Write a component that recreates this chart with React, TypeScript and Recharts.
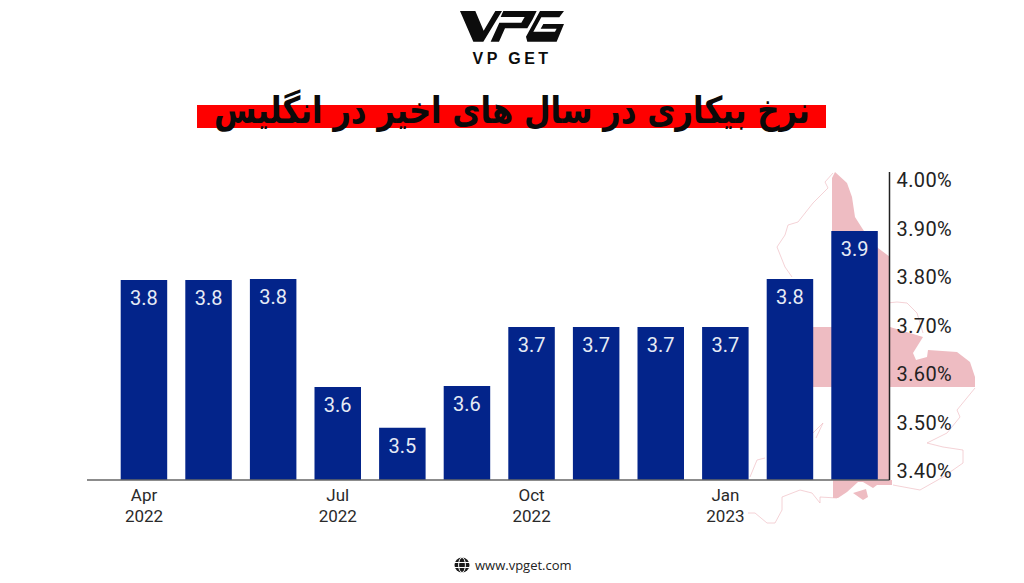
import React from 'react';
import { BarChart, Bar, XAxis, YAxis, LabelList } from 'recharts';

const months = [
  'Apr 2022', 'May 2022', 'Jun 2022', 'Jul 2022', 'Aug 2022', 'Sep 2022',
  'Oct 2022', 'Nov 2022', 'Dec 2022', 'Jan 2023', 'Feb 2023', 'Mar 2023',
];
// bar heights as drawn in the picture, labels round them to one decimal
const rates = [3.794, 3.794, 3.796, 3.573, 3.489, 3.575, 3.697, 3.697, 3.697, 3.697, 3.796, 3.895];
const rateTicks = [3.4, 3.5, 3.6, 3.7, 3.8, 3.9, 4.0];

const data = months.map((month, i) => ({ month, rate: rates[i] }));

const PINK = '#eebcc2';
const FONT = 'Roboto, sans-serif';

const MonthTick = ({ x, y, payload }: any) => {
  const [m, yr] = payload.value.split(' ');
  return (
    <text x={x} textAnchor="middle" fontSize={17} fontFamily={FONT} fill="#2a2a2a">
      <tspan x={x} y={y + 13}>{m}</tspan>
      <tspan x={x} y={y + 34}>{yr}</tspan>
    </text>
  );
};

// faint map of England sitting behind the chart
const MapBackdrop = () => (
  <svg width={1024} height={583} style={{ position: 'absolute', left: 0, top: 0 }}>
    <g fill={PINK}>
      <polygon points="835,172 847,183 852,197 855,217 862,228 870,240 878,248 890,257 890,480 833,480 832,300 832,178" />
      <polygon points="800,327 890,327 923,337 913,353 916,360 927,357 928,350 957,352 970,362 975,377 975,387 800,387" />
      <polygon points="833,480 892,480 892,485 877,485 873,488 863,482 858,482 847,492 838,498 833,498" />
      <polygon points="853,493 866,489 868,497 863,500" />
    </g>
    <g fill="none" stroke={PINK} strokeWidth={0.9} strokeOpacity={0.75}>
      <polyline points="833,173 825,182 828,188 813,203 798,222 788,225 785,235 777,247 785,267 792,277" />
      <polyline points="887,303 897,302 907,303 917,313 923,333" />
      <polyline points="975,388 957,410 960,417 947,433 927,443 943,447 963,450 963,463 943,477 920,490 893,485" />
      <polyline points="755,513 767,523 775,523 782,510 782,497 800,490 812,493 820,503 820,497 837,498" />
      <polyline points="748,513 755,513" />
      <polyline points="813,433 823,423 816,438" />
      <polyline points="750,477 757,460 765,458" />
    </g>
  </svg>
);

const Logo = () => (
  <svg width={1024} height={80} style={{ position: 'absolute', left: 0, top: 0 }}>
    <g fill="#0c0c0c" transform="translate(440 0) scale(0.3333)">
      <polygon points="60,33 106,33 131,92 166,33 186,33 130,125 100,125" />
      <polygon points="190,33 290,33 278,58 262,85 195,85 177,125 152,125 178,68 244,68 254,51 182,51" />
      <polygon points="300,33 372,33 358,52 304,52 280,95 345,95 350,86 302,86 310,72 372,72 350,125 262,125 258,110" />
    </g>
    <text x={512} y={64} textAnchor="middle" fontSize={16} fontWeight={700} letterSpacing={3.4}
      fontFamily="'Liberation Sans', sans-serif" fill="#0c0c0c">VP GET</text>
  </svg>
);

const Footer = () => (
  <>
    <svg width={20} height={20} style={{ position: 'absolute', left: 452, top: 555 }}>
      <circle cx={10} cy={10} r={7.5} fill="#1a1a1a" />
      <g stroke="#fff" strokeWidth={1} fill="none">
        <ellipse cx={10} cy={10} rx={3.4} ry={7.5} />
        <line x1={2} y1={7.5} x2={18} y2={7.5} />
        <line x1={2} y1={12.5} x2={18} y2={12.5} />
      </g>
    </svg>
    <div style={{ position: 'absolute', left: 475, top: 556, fontSize: 13, lineHeight: '18px',
      fontFamily: "'Open Sans', sans-serif", color: '#222' }}>www.vpget.com</div>
  </>
);

export default function App() {
  return (
    <div style={{ position: 'absolute', left: 0, top: 0, width: 1024, height: 583, background: '#fff', overflow: 'hidden' }}>
      <MapBackdrop />
      <Logo />
      <div style={{ position: 'absolute', left: 197, top: 105, width: 629, height: 23, background: '#fe0000' }} />
      <div dir="rtl" style={{ position: 'absolute', left: 62, top: 86, width: 900, height: 50, lineHeight: '50px', textAlign: 'center',
        fontSize: 37, fontWeight: 700, fontFamily: "'DejaVu Sans', sans-serif", color: '#0a0a0a', whiteSpace: 'nowrap',
        transform: 'scaleX(0.83)' }}>
        نرخ بیکاری در سال های اخیر در انگلیس
      </div>
      <div style={{ position: 'absolute', left: 0, top: 0 }}>
        <BarChart width={1024} height={583} data={data} margin={{ top: 172, right: 0, bottom: 0, left: 87 }} barCategoryGap={0}>
          <XAxis
            dataKey="month"
            height={103}
            interval={2}
            padding={{ left: 24.7, right: 2.6 }}
            tick={<MonthTick />}
            tickLine={false}
            axisLine={{ stroke: '#666', strokeWidth: 1.5 }}
          />
          <YAxis
            orientation="right"
            width={134.5}
            domain={[3.3814, 4.0165]}
            allowDataOverflow
            ticks={rateTicks}
            interval={0}
            tickFormatter={(v: number) => `${v.toFixed(2)}%`}
            tick={{ fontSize: 20, fontFamily: FONT, fill: '#222', textAnchor: 'start', letterSpacing: 0.4 }}
            tickLine={false}
            tickMargin={1}
            axisLine={{ stroke: '#222', strokeWidth: 1.5 }}
          />
          <Bar dataKey="rate" fill="#03248a" barSize={46.5} isAnimationActive={false}>
            <LabelList
              dataKey="rate"
              position="insideTop"
              offset={10.5}
              formatter={(v: number) => v.toFixed(1)}
              style={{ fontSize: 20, fontFamily: FONT, fill: '#e6ebf5' }}
            />
          </Bar>
        </BarChart>
      </div>
      <Footer />
    </div>
  );
}
